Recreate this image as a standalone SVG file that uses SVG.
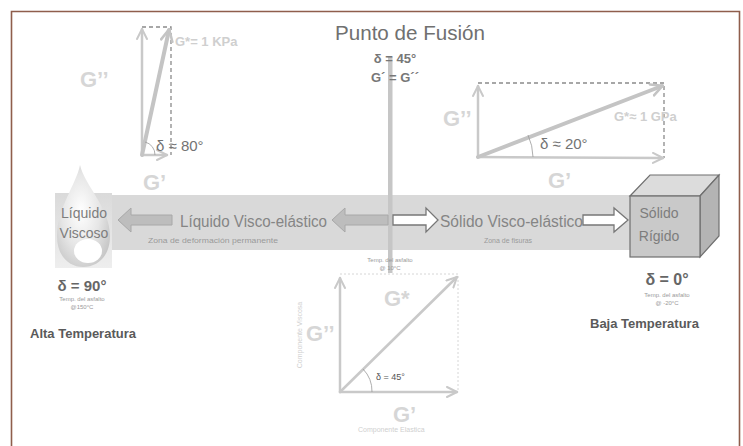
<svg xmlns="http://www.w3.org/2000/svg" width="743" height="446" viewBox="0 0 743 446">
  <style>
    text { font-family: "Liberation Sans", Arial, sans-serif; }
    .vec { stroke: #c9c9c9; stroke-width: 2.5; fill: none; stroke-linecap: round; }
    .vecb { stroke: #c4c4c4; stroke-width: 4; fill: none; stroke-linecap: round; }
    .dash { stroke: #8a8a8a; stroke-width: 1.3; stroke-dasharray: 4 3; fill: none; }
    .dot { stroke: #d6d6d6; stroke-width: 1; stroke-dasharray: 2 2; fill: none; }
    .arc { stroke: #999; stroke-width: 0.8; fill: none; }
    .gbig { font-weight: bold; fill: #d6d6d6; font-size: 22px; }
    .gstar { font-weight: bold; fill: #cfcfcf; font-size: 13px; }
    .delta { fill: #737373; font-size: 15px; }
    .state { fill: #7d7d7d; font-size: 14px; }
    .phase { fill: #858585; font-size: 16px; }
    .zone { fill: #9a9a9a; font-size: 7px; }
    .tiny { fill: #9a9a9a; font-size: 6px; }
    .temp { fill: #5a5a5a; font-size: 13px; font-weight: bold; }
    .dval { fill: #666; font-size: 15px; font-weight: bold; }
    .fill-arrow { fill: #bdbdbd; stroke: #a8a8a8; stroke-width: 1; }
    .open-arrow { fill: #ffffff; stroke: #777; stroke-width: 1.3; }
  </style>
  <defs>
    <marker id="head" viewBox="0 0 10 10" refX="9" refY="5" markerWidth="5" markerHeight="5" orient="auto" markerUnits="strokeWidth">
      <path d="M1,1 L9,5 L1,9" fill="none" stroke="#c9c9c9" stroke-width="1.6" stroke-linecap="round" stroke-linejoin="round"/>
    </marker>
    <marker id="headb" viewBox="0 0 10 10" refX="8.5" refY="5" markerWidth="3.6" markerHeight="3.6" orient="auto" markerUnits="strokeWidth">
      <path d="M1,1 L9,5 L1,9" fill="none" stroke="#c4c4c4" stroke-width="1.8" stroke-linecap="round" stroke-linejoin="round"/>
    </marker>
    <radialGradient id="dropFill" cx="0.45" cy="0.45" r="0.65">
      <stop offset="0" stop-color="#ffffff"/>
      <stop offset="0.55" stop-color="#e6e6e6"/>
      <stop offset="1" stop-color="#c4c4c4"/>
    </radialGradient>
    <linearGradient id="dropBg" x1="0" y1="0" x2="0" y2="1">
      <stop offset="0" stop-color="#dadada"/>
      <stop offset="1" stop-color="#eeeeee"/>
    </linearGradient>
  </defs>

  <!-- frame -->
  <rect x="0" y="0" width="743" height="446" fill="#ffffff"/>
  <path d="M11.5,446 L11.5,11.5 L739.5,11.5 L739.5,446" fill="none" stroke="#8f5e4c" stroke-width="1.6"/>

  <!-- state band -->
  <g id="band">
    <rect x="55" y="195" width="585" height="55" fill="#d9d9d9"/>
  </g>

  <!-- melting point marker -->
  <g id="melting-point">
    <rect x="388" y="57" width="4.5" height="216" fill="#c6c6c6"/>
    <text x="410" y="40" text-anchor="middle" font-size="20" fill="#707070" textLength="150" lengthAdjust="spacingAndGlyphs">Punto de Fusión</text>
    <text x="395" y="63" text-anchor="middle" font-size="13" font-weight="bold" fill="#777">δ = 45°</text>
    <text x="395" y="82" text-anchor="middle" font-size="13" font-weight="bold" fill="#777">G´ = G´´</text>
    <text x="390" y="262" text-anchor="middle" class="tiny">Temp. del asfalto</text>
    <text x="390" y="270" text-anchor="middle" class="tiny">@ 10°C</text>
  </g>

  <!-- viscous liquid (drop) -->
  <g id="liquido-viscoso">
    <rect x="55" y="193" width="57" height="75" fill="url(#dropBg)"/>
    <path d="M80,165 C76,185 57,208 57,236 C57,256 69,267 83,267 C98,267 110,256 110,236 C110,208 85,186 80,165 Z" fill="url(#dropFill)"/>
    <ellipse cx="88" cy="251" rx="14" ry="12" fill="#ffffff"/>
    <text x="84" y="218" text-anchor="middle" class="state">Líquido</text>
    <text x="84" y="238" text-anchor="middle" class="state">Viscoso</text>
    <text x="82" y="291" text-anchor="middle" class="dval">δ = 90°</text>
    <text x="82" y="301" text-anchor="middle" class="tiny">Temp. del asfalto</text>
    <text x="82" y="309" text-anchor="middle" class="tiny">@150°C</text>
    <text x="30" y="338" class="temp">Alta Temperatura</text>
  </g>

  <!-- visco-elastic liquid -->
  <g id="liquido-viscoelastico">
    <text x="180" y="227" class="phase" textLength="147" lengthAdjust="spacingAndGlyphs">Líquido Visco-elástico</text>
    <text x="148" y="243" class="zone" textLength="130" lengthAdjust="spacingAndGlyphs">Zona de deformación permanente</text>
  </g>

  <!-- visco-elastic solid -->
  <g id="solido-viscoelastico">
    <text x="440" y="227" class="phase" textLength="143" lengthAdjust="spacingAndGlyphs">Sólido Visco-elástico</text>
    <text x="508" y="243" text-anchor="middle" class="zone">Zona de fisuras</text>
  </g>

  <!-- rigid solid (cube) -->
  <g id="solido-rigido">
    <path d="M630,196 L650,175 L719,175 L700,196 Z" fill="#dcdcdc" stroke="#6f6f6f" stroke-width="1.2"/>
    <path d="M700,196 L719,175 L719,236 L700,257 Z" fill="#b4b4b4" stroke="#6f6f6f" stroke-width="1.2"/>
    <rect x="630" y="196" width="70" height="61" fill="#c9c9c9" stroke="#6f6f6f" stroke-width="1.2"/>
    <text x="659" y="218" text-anchor="middle" class="state">Sólido</text>
    <text x="659" y="241" text-anchor="middle" class="state">Rígido</text>
    <text x="667" y="285" text-anchor="middle" font-family="Liberation Serif, serif" font-size="16" font-weight="bold" fill="#666">δ = 0°</text>
    <text x="667" y="297" text-anchor="middle" class="tiny">Temp. del asfalto</text>
    <text x="667" y="305" text-anchor="middle" class="tiny">@ -20°C</text>
    <text x="590" y="328" class="temp">Baja Temperatura</text>
  </g>

  <!-- band arrows -->
  <g id="connectors">
    <path class="fill-arrow" d="M118,220 L131,208 L131,215 L172,215 L172,225 L131,225 L131,232 Z"/>
    <path class="fill-arrow" d="M332,220 L345,208 L345,215 L388,215 L388,225 L345,225 L345,232 Z"/>
    <path class="open-arrow" d="M393,215 L426,215 L426,208 L438,220 L426,232 L426,225 L393,225 Z"/>
    <path class="open-arrow" d="M583,215 L614,215 L614,208 L628,220 L614,232 L614,225 L583,225 Z"/>
  </g>

  <!-- phasor diagram: delta about 80 degrees -->
  <g id="phasor-80">
    <path class="dash" d="M142,27 L171,27 L171,155"/>
    <line class="vec" x1="142" y1="155" x2="142" y2="29" marker-end="url(#head)"/>
    <line class="vec" x1="142" y1="155" x2="167" y2="155" marker-end="url(#head)"/>
    <line class="vecb" x1="142" y1="155" x2="169" y2="30" marker-end="url(#headb)"/>
    <path class="arc" d="M155,155 A13,13 0 0 0 145,142"/>
    <text x="175" y="46" class="gstar">G*= 1 KPa</text>
    <text x="156" y="151" class="delta">δ ≈ 80°</text>
    <text x="80" y="87" class="gbig">G’’</text>
    <text x="143" y="190" class="gbig">G’</text>
  </g>

  <!-- phasor diagram: delta about 20 degrees -->
  <g id="phasor-20">
    <path class="dash" d="M478,83 L664,83 L664,158"/>
    <line class="vec" x1="478" y1="157" x2="478" y2="86" marker-end="url(#head)"/>
    <line class="vec" x1="478" y1="157" x2="663" y2="158" marker-end="url(#head)"/>
    <line class="vecb" x1="478" y1="157" x2="662" y2="86" marker-end="url(#headb)"/>
    <path class="arc" d="M533,157 A55,55 0 0 0 528,135"/>
    <text x="614" y="121" class="gstar">G*≈ 1 GPa</text>
    <text x="540" y="149" class="delta">δ ≈ 20°</text>
    <text x="443" y="126" class="gbig">G’’</text>
    <text x="548" y="188" class="gbig">G’</text>
  </g>

  <!-- phasor diagram: delta 45 degrees at melting point -->
  <g id="phasor-45">
    <path class="dot" d="M340,274 L458,274 L458,392"/>
    <line class="vec" x1="340" y1="392" x2="340" y2="278" marker-end="url(#head)"/>
    <line class="vec" x1="340" y1="392" x2="457" y2="392" marker-end="url(#head)"/>
    <line class="vec" x1="340" y1="392" x2="457" y2="277" marker-end="url(#head)"/>
    <path class="arc" d="M372,392 A32,32 0 0 0 363,369"/>
    <text x="384" y="306" class="gbig">G*</text>
    <text x="306" y="341" class="gbig">G’’</text>
    <text x="376" y="380" font-size="9" fill="#555">δ = 45°</text>
    <text x="393" y="422" class="gbig">G’</text>
    <text x="358" y="432" font-size="7" fill="#cfcfcf">Componente  Elastica</text>
    <text transform="translate(302,335) rotate(-90)" text-anchor="middle" font-size="7" fill="#d0d0d0">Componente  Viscosa</text>
  </g>
</svg>
